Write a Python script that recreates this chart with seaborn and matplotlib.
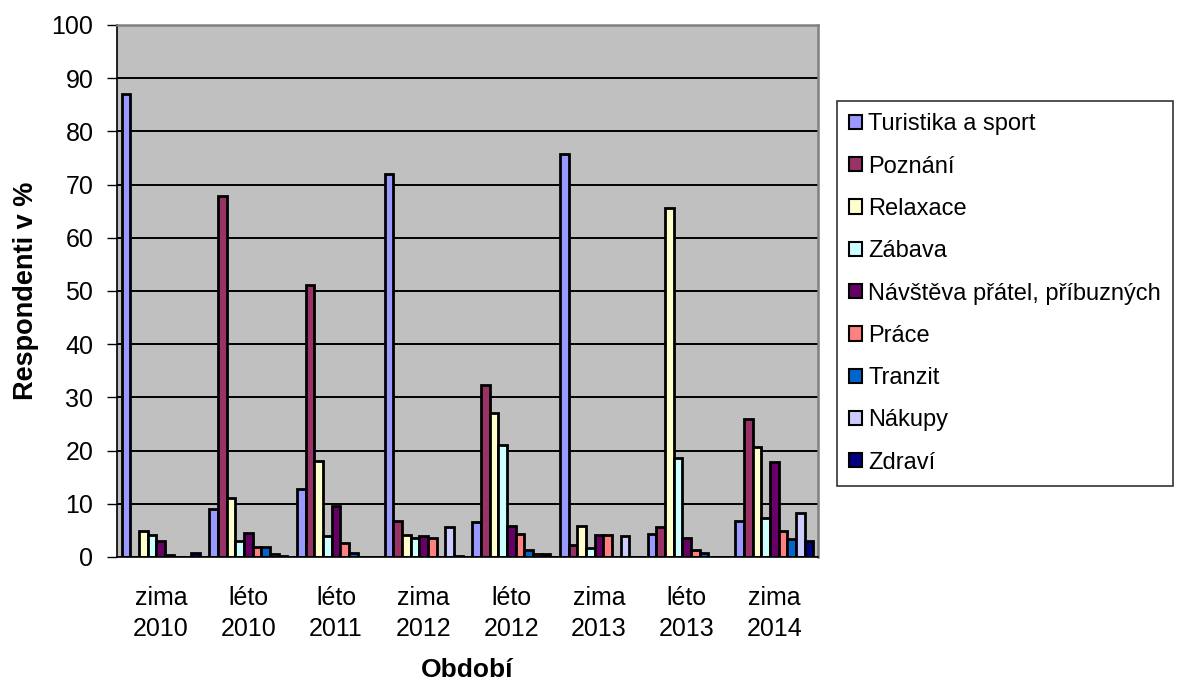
import numpy as np
import pandas as pd
import matplotlib
matplotlib.use("Agg")
import matplotlib.pyplot as plt
from matplotlib.patches import Patch
from matplotlib.ticker import FixedLocator
import seaborn as sns

periods = ["zima 2010", "léto 2010", "léto 2011", "zima 2012",
           "léto 2012", "zima 2013", "léto 2013", "zima 2014"]
series = ["Turistika a sport", "Poznání", "Relaxace", "Zábava",
          "Návštěva přátel, příbuzných", "Práce", "Tranzit", "Nákupy", "Zdraví"]

turistika = [87.0, 9.0, 12.8, 72.0, 6.6, 75.7, 4.3, 6.8]
poznani   = [0.0, 67.8, 51.1, 6.8, 32.3, 2.2, 5.6, 25.9]
relaxace  = [4.8, 11.0, 18.0, 4.1, 27.0, 5.8, 65.6, 20.7]
zabava    = [4.1, 3.0, 4.0, 3.6, 21.0, 1.6, 18.7, 7.3]
navsteva  = [3.0, 4.5, 9.5, 3.9, 5.8, 4.1, 3.6, 17.9]
prace     = [0.4, 1.9, 2.6, 3.6, 4.3, 4.1, 1.4, 4.9]
tranzit   = [0.0, 1.9, 0.7, 0.0, 1.3, 0.0, 0.8, 3.3]
nakupy    = [0.0, 0.5, 0.0, 5.6, 0.6, 3.9, 0.0, 8.2]
zdravi    = [0.7, 0.2, 0.0, 0.1, 0.6, 0.0, 0.0, 3.1]

values = [turistika, poznani, relaxace, zabava, navsteva, prace, tranzit, nakupy, zdravi]
colors = ["#9999FF", "#993366", "#FFFFCC", "#CCFFFF", "#660066",
          "#FF8080", "#0066CC", "#CCCCFF", "#000080"]

rows = []
for s, vals in zip(series, values):
    for p, v in zip(periods, vals):
        rows.append({"Období": p, "Respondenti": v, "Důvod": s})
df = pd.DataFrame(rows)

sns.set_theme(style="white")
plt.rcParams['font.family'] = ['Liberation Sans', 'DejaVu Sans']
plt.rcParams['text.color'] = 'black'
plt.rcParams['axes.labelcolor'] = 'black'
plt.rcParams['xtick.color'] = 'black'
plt.rcParams['ytick.color'] = 'black'

W, H = 1182, 682
fig = plt.figure(figsize=(W / 100, H / 100), dpi=100)
fig.patch.set_facecolor("white")
L, R, T, B = 117, 818, 25, 557
ax = fig.add_axes([L / W, 1 - B / H, (R - L) / W, (B - T) / H])
ax.set_facecolor("#C0C0C0")

sns.barplot(data=df, x="Období", y="Respondenti", hue="Důvod",
            order=periods, hue_order=series, palette=colors,
            saturation=1, width=0.89, gap=0, errorbar=None,
            edgecolor="black", linewidth=2.0, legend=False, ax=ax)

ax.set_ylim(0, 100)
ax.set_xlim(-0.5, len(periods) - 0.5)
ax.set_yticks(np.arange(0, 101, 10))
ax.yaxis.grid(True, color="black", linewidth=1.4)
ax.xaxis.grid(False)
ax.set_axisbelow(True)

ax.set_xticks(range(len(periods)))
ax.set_xticklabels([p.replace(" ", "\n") for p in periods], fontsize=18,
                   linespacing=1.38, color="black")
ax.xaxis.set_minor_locator(FixedLocator(np.arange(-0.5, len(periods), 1.0)))
ax.tick_params(axis="x", which="major", length=0, pad=21)
ax.tick_params(axis="x", which="minor", length=8, width=1, color="black", direction="out")
ax.tick_params(axis="y", which="major", length=7, width=1, color="black",
               direction="out", labelsize=18, pad=10, left=True, labelcolor="black")

for side in ["left", "bottom"]:
    ax.spines[side].set_color("black")
    ax.spines[side].set_linewidth(1.2)
for side in ["top", "right"]:
    ax.spines[side].set_color("#808080")
    ax.spines[side].set_linewidth(1.8)

ax.set_xlabel("Období", fontsize=19, fontweight="bold", labelpad=12, color="black")
ax.set_ylabel("Respondenti v %", fontsize=19.5, fontweight="bold", labelpad=9, color="black")

handles = [Patch(facecolor=c, edgecolor="black", linewidth=1.5) for c in colors]
leg = fig.legend(handles, series, loc="upper left",
                 bbox_to_anchor=(837 / W, 1 - 101 / H),
                 frameon=True, fancybox=False, fontsize=17,
                 handlelength=0.55, handleheight=0.55, handletextpad=0.25,
                 labelspacing=0.86, borderpad=0.52, borderaxespad=0)
for t in leg.get_texts():
    t.set_color("black")
leg.get_frame().set_edgecolor("black")
leg.get_frame().set_linewidth(1.2)
leg.get_frame().set_facecolor("white")

fig.savefig("out.png", dpi=100, facecolor="white")
